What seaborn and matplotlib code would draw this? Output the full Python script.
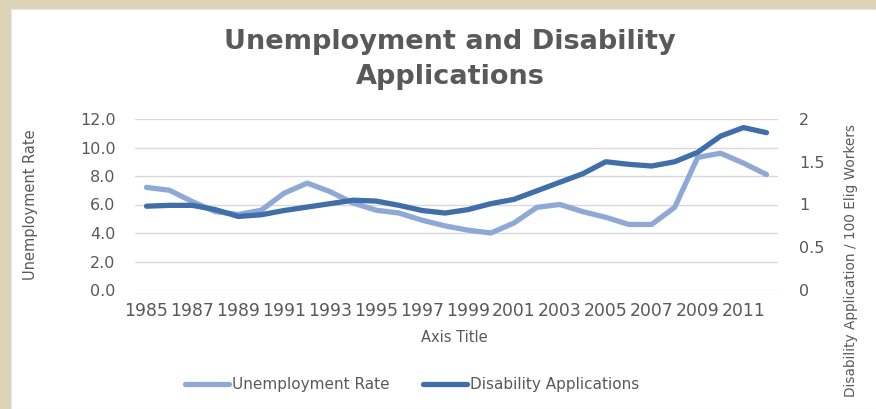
import matplotlib
matplotlib.use("Agg")
import matplotlib.pyplot as plt
import matplotlib.patches as mpatches
from matplotlib.lines import Line2D
import seaborn as sns
import pandas as pd

years = list(range(1985, 2013))
unemployment = [7.2, 7.0, 6.2, 5.5, 5.3, 5.6, 6.8, 7.5, 6.9, 6.1, 5.6, 5.4, 4.9, 4.5,
                4.2, 4.0, 4.7, 5.8, 6.0, 5.5, 5.1, 4.6, 4.6, 5.8, 9.3, 9.6, 8.9, 8.1]
disability = [0.98, 0.99, 0.99, 0.94, 0.86, 0.88, 0.93, 0.97, 1.01, 1.05, 1.04, 0.99, 0.93, 0.90,
              0.94, 1.01, 1.06, 1.16, 1.26, 1.36, 1.50, 1.47, 1.45, 1.50, 1.61, 1.80, 1.90, 1.84]
left_ticks = [0, 2, 4, 6, 8, 10, 12]
right_ticks = [0, 0.5, 1, 1.5, 2]
right_tick_labels = ["0", "0.5", "1", "1.5", "2"]
xtick_years = list(range(1985, 2012, 2))

df = pd.DataFrame({"Year": years, "Unemployment Rate": unemployment,
                   "Disability Applications": disability})

sns.set_theme(style="white")
plt.rcParams["font.family"] = ["DejaVu Sans"]

TXT = "#595959"
C_UNEMP = "#8FA9D6"
C_DIS = "#3F6EA8"
GRID = "#D9D9D9"

fig = plt.figure(figsize=(8.76, 4.09), dpi=100)
fig.patch.set_facecolor("#DCD3B6")
W, H = 876, 409
fig.patches.append(mpatches.Rectangle((11 / W, 0), 1 - 11 / W, 1 - 9 / H,
                                      transform=fig.transFigure, facecolor="white",
                                      edgecolor="#E6E6E6", lw=0.8, zorder=-5))

ax = fig.add_axes([135 / W, 1 - 290 / H, (778 - 135) / W, (290 - 119) / H])
ax.set_facecolor("none")
ax2 = ax.twinx()
ax2.set_facecolor("none")

sns.lineplot(data=df, x="Year", y="Unemployment Rate", ax=ax, color=C_UNEMP,
             linewidth=3.8, solid_capstyle="round", solid_joinstyle="round")
sns.lineplot(data=df, x="Year", y="Disability Applications", ax=ax2, color=C_DIS,
             linewidth=3.8, solid_capstyle="round", solid_joinstyle="round")

ax.set_xlim(1984.5, 2012.5)
ax.set_ylim(0, 12)
ax2.set_ylim(0, 2)
ax.set_yticks(left_ticks)
ax.set_yticklabels([f"{v:.1f}" for v in left_ticks])
ax2.set_yticks(right_ticks)
ax2.set_yticklabels(right_tick_labels)
ax.set_xticks(xtick_years)
ax.set_xticklabels([str(y) for y in xtick_years])

for a in (ax, ax2):
    for s in a.spines.values():
        s.set_visible(False)
    a.tick_params(length=0, colors=TXT, labelsize=11.5)
ax.tick_params(axis="y", pad=14)
ax.tick_params(axis="x", pad=9, labelsize=12.4)
ax2.tick_params(axis="y", pad=15)
ax.yaxis.grid(True, color=GRID, linewidth=1.0)
ax.set_axisbelow(True)
ax.set_xlabel("")
ax.set_ylabel("")
ax2.set_ylabel("")

fig.text(0.514, 1 - 42 / H, "Unemployment and Disability", ha="center", va="center",
         fontsize=19.5, fontweight="bold", color=TXT)
fig.text(0.514, 1 - 77 / H, "Applications", ha="center", va="center",
         fontsize=19.5, fontweight="bold", color=TXT)
fig.text(31 / W, 1 - 205 / H, "Unemployment Rate", rotation=90, ha="center", va="center",
         fontsize=10.5, color=TXT)
fig.text(454 / W, 1 - 338 / H, "Axis Title", ha="center", va="center",
         fontsize=10.5, color=TXT)
fig.text(851 / W, 1 - 124 / H, "Disability Application / 100 Elig Workers", rotation=90,
         ha="center", va="top", fontsize=9.8, color=TXT)

handles = [Line2D([0], [0], color=C_UNEMP, lw=3.8, solid_capstyle="round"),
           Line2D([0], [0], color=C_DIS, lw=3.8, solid_capstyle="round")]
fig.legend(handles, ["Unemployment Rate", "Disability Applications"], loc="center",
           bbox_to_anchor=(412 / W, 1 - 385 / H), ncol=2, frameon=False,
           fontsize=11, labelcolor=TXT, handlelength=2.9, handletextpad=0.15,
           columnspacing=2.2, borderpad=0)

fig.savefig("out.png", dpi=100)
